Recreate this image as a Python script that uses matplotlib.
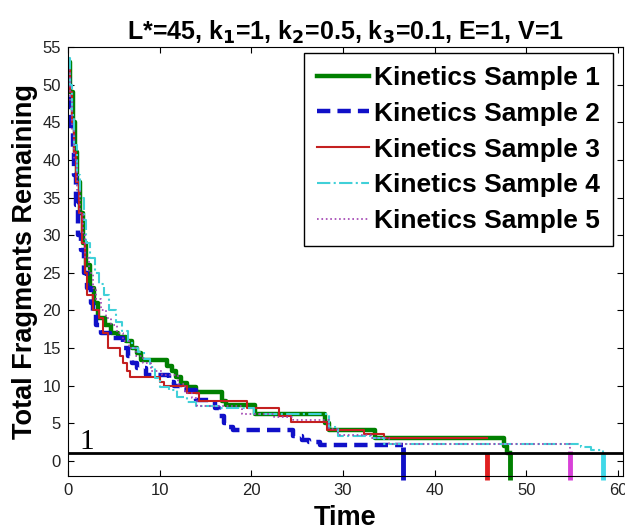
import numpy as np
import matplotlib.pyplot as plt

# step data (time, fragments remaining)
t1 = [0, 0.25, 0.5, 0.75, 1.0, 1.3, 1.6, 2.0, 2.4, 2.8, 3.3, 4.0, 4.7, 5.5, 6.3, 7.0, 7.5, 8.0,
      10.8, 11.3, 11.8, 12.3, 13.0, 14.0, 16.8, 17.2, 20.4, 28.0, 28.5, 33.5, 47.6, 47.9, 48.2]
n1 = [53, 49, 45, 41, 37, 33, 29, 26, 23, 21, 19, 18, 17, 16.5, 16, 15, 14.3, 13.4,
      12.6, 12.0, 11.1, 10.3, 9.8, 9.1, 8.0, 7.4, 6.3, 5.0, 4.1, 3.0, 2.0, 1.0, 1.0]

t2 = [0, 0.15, 0.3, 0.5, 0.7, 0.9, 1.1, 1.4, 1.7, 2.1, 2.5, 2.7, 3.0, 3.6, 4.6, 6.0, 6.5, 7.0,
      7.5, 8.5, 11.0, 11.6, 12.2, 14.0, 16.0, 16.5, 17.0, 17.5, 18.0, 24.5, 25.5, 26.3, 27.5, 36.5]
n2 = [51, 47, 44, 41, 38, 34, 30, 28, 25, 23, 21, 19.5, 18, 17, 16.4, 15, 14, 13,
      12.3, 11.4, 10.5, 10, 9.4, 8.1, 7, 6, 5, 4.5, 4.1, 3.3, 2.8, 2.5, 2.1, 2.1]

t3 = [0, 0.2, 0.4, 0.6, 0.9, 1.2, 1.5, 1.8, 2.1, 2.7, 3.4, 3.8, 4.4, 5.7, 6.0, 6.4, 6.8, 10.0,
      10.5, 13.0, 14.3, 19.5, 23.0, 24.3, 28.3, 32.3, 34.5, 45.7]
n3 = [52, 49, 45, 41, 37, 33, 29, 25, 22, 20, 19, 17, 15, 14, 13, 12, 11.1, 10.5,
      10, 9, 8, 7, 6, 5.2, 4.1, 3.6, 3.0, 3.0]

t4 = [0, 0.2, 0.4, 0.7, 1.0, 1.3, 1.7, 2.0, 2.4, 2.9, 3.4, 3.9, 4.5, 5.2, 5.9, 6.5, 7.0, 7.6,
      8.3, 8.9, 9.5, 10.0, 11.0, 11.9, 13.0, 14.0, 16.5, 20.3, 28.5, 29.5, 33.0, 34.5, 56.0,
      57.0, 58.4]
n4 = [53.5, 50, 46, 42, 38, 35, 32, 29, 27, 25, 23.5, 22, 20, 18.5, 17.3, 16, 15, 14.5,
      13.5, 12.5, 11, 9.8, 9.4, 8.5, 7.8, 7.3, 7.0, 6.2, 4.5, 3.3, 3.0, 2.2, 1.8,
      1.4, 1.0]

t5 = [0, 0.2, 0.4, 0.7, 1.0, 1.3, 1.6, 1.9, 2.3, 2.7, 3.1, 3.6, 4.1, 4.7, 5.3, 6.0, 6.7, 7.4,
      8.2, 9.0, 10.3, 12.0, 12.8, 13.5, 14.1, 19.0, 22.5, 24.5, 28.5, 29.5, 33.0, 35.0, 53.8,
      54.7]
n5 = [52, 48, 44, 40, 36, 33, 30, 27, 25, 23, 21.5, 20, 19, 18, 17, 16, 15, 14,
      13, 12, 11.4, 10.2, 9, 8.3, 7.3, 6.3, 5.8, 5.4, 4.2, 3.4, 3.0, 2.2, 2.2,
      1.3]

labels = ['Kinetics Sample 1', 'Kinetics Sample 2', 'Kinetics Sample 3',
          'Kinetics Sample 4', 'Kinetics Sample 5']

# extinction times (vertical marks)
end_times = [48.2, 36.5, 45.7, 58.4, 54.7]
end_tops = [1.0, 1.8, 1.1, 0.9, 1.3]

colors = ['#008000', '#1010c8', '#c42020', '#40d0d8', '#a040b0']
bar_colors = ['#008000', '#1010c8', '#e02020', '#40d8e8', '#d840d8']

plt.rcParams['font.family'] = ['Liberation Sans', 'DejaVu Sans']

fig = plt.figure(figsize=(6.25, 5.31), dpi=100)
ax = fig.add_axes([0.1088, 0.1036, 0.8875, 0.8079])

ax.step(t1, n1, where='post', color=colors[0], lw=3.2, ls='-', label=labels[0])
ax.step(t2, n2, where='post', color=colors[1], lw=3.2, ls=(0, (3, 1.6)), label=labels[1])
ax.step(t3, n3, where='post', color=colors[2], lw=1.5, ls='-', label=labels[2])
ax.step(t4, n4, where='post', color=colors[3], lw=1.5, ls='-.', label=labels[3])
ax.step(t5, n5, where='post', color=colors[4], lw=1.2, ls=':', label=labels[4])

ax.vlines(end_times, -2.5, end_tops, colors=bar_colors, lw=3.5, clip_on=False)

ax.axhline(1, color='k', lw=2)
ax.text(2.0, 1.6, '1', family='Liberation Serif', fontsize=21, ha='center', va='baseline')

ax.set_xlim(0, 60.5)
ax.set_ylim(-2, 55)
ax.set_xticks(np.arange(0, 61, 10))
ax.set_yticks(np.arange(0, 56, 5))
ax.tick_params(direction='in', top=True, right=True, length=4, labelsize=12,
               labelcolor='#222222', pad=5)

ax.set_xlabel('Time', fontsize=19.5, fontweight='bold', labelpad=5)
ax.set_ylabel('Total Fragments Remaining', fontsize=19.5, fontweight='bold', labelpad=3)
ax.set_title('L*=45, k$_\\mathbf{1}$=1, k$_\\mathbf{2}$=0.5, k$_\\mathbf{3}$=0.1, E=1, V=1',
             fontsize=18, fontweight='bold', pad=5)

leg = ax.legend(loc='upper right', bbox_to_anchor=(0.983, 0.987), fancybox=False,
                framealpha=1, edgecolor='k', prop={'weight': 'bold', 'size': 19},
                handlelength=1.95, handletextpad=0.2, labelspacing=0.45, borderpad=0.5,
                borderaxespad=0)
leg.get_frame().set_linewidth(1)

fig.savefig('out.png', dpi=100)
